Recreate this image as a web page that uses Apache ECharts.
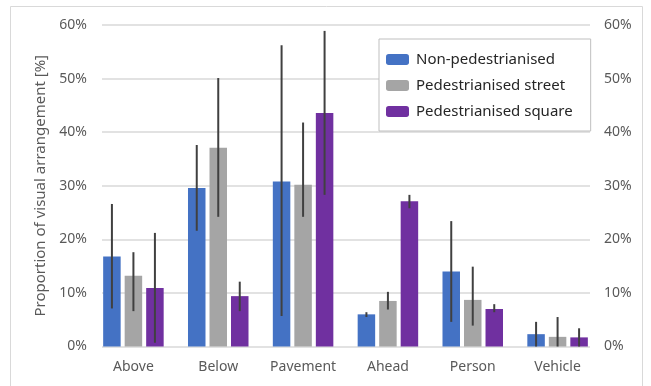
<!DOCTYPE html>
<html>
<head>
<meta charset="utf-8">
<script src="https://cdn.jsdelivr.net/npm/echarts@6/dist/echarts.min.js"></script>
<style>html,body{margin:0;padding:0;background:#fff}#c{width:651px;height:386px}</style>
</head>
<body>
<div id="c"></div>
<script>
const categories = ['Above', 'Below', 'Pavement', 'Ahead', 'Person', 'Vehicle'];
const seriesNames = ['Non-pedestrianised', 'Pedestrianised street', 'Pedestrianised square'];
const nonPed = [16.8, 29.6, 30.8, 6.0, 14.0, 2.3];
const pedStreet = [13.2, 37.1, 30.2, 8.5, 8.7, 1.8];
const pedSquare = [10.9, 9.4, 43.6, 27.1, 7.0, 1.7];
const nonPedLow = [7.1, 21.6, 5.7, 5.5, 4.6, 0];
const nonPedHigh = [26.6, 37.6, 56.2, 6.4, 23.4, 4.6];
const pedStreetLow = [6.6, 24.2, 24.2, 6.9, 3.9, 0];
const pedStreetHigh = [17.6, 50.1, 41.8, 10.2, 14.9, 5.5];
const pedSquareLow = [0.7, 6.6, 28.3, 25.8, 6.4, 0];
const pedSquareHigh = [21.2, 12.1, 58.9, 28.3, 7.9, 3.4];
const yTicks = [0, 10, 20, 30, 40, 50, 60];

const colors = ['#4472C4', '#A5A5A5', '#7030A0'];
const values = [nonPed, pedStreet, pedSquare];
const lows = [nonPedLow, pedStreetLow, pedSquareLow];
const highs = [nonPedHigh, pedStreetHigh, pedSquareHigh];
const BW = 17.5, GAP = 4;
const offsets = [-(BW + GAP), 0, BW + GAP];
const FONT = 'Noto Sans';

const chart = echarts.init(document.getElementById('c'), null, {renderer: 'canvas'});

const barSeries = values.map((v, i) => ({
  name: seriesNames[i], type: 'bar', xAxisIndex: 0, yAxisIndex: 0,
  data: v, barWidth: BW, barGap: (GAP / BW * 100).toFixed(1) + '%',
  itemStyle: {color: colors[i]}, silent: true
}));
const errSeries = values.map((v, i) => ({
  type: 'custom', xAxisIndex: 0, yAxisIndex: 0, silent: true, z: 5,
  data: categories.map((c, k) => [k, lows[i][k], highs[i][k]]),
  renderItem: function (params, api) {
    const lo = api.coord([api.value(0), api.value(1)]);
    const hi = api.coord([api.value(0), api.value(2)]);
    const x = lo[0] + offsets[i];
    return {type: 'line', shape: {x1: x, y1: lo[1], x2: x, y2: hi[1]},
      style: {stroke: '#404040', lineWidth: 2}};
  }
}));

chart.setOption({
  animation: false,
  textStyle: {fontFamily: FONT},
  graphic: [{type: 'rect', shape: {x: 10.5, y: 6.5, width: 632, height: 390},
    style: {fill: 'none', stroke: '#D9D9D9', lineWidth: 1}, silent: true}],
  grid: [
    {left: 91, right: 51, top: 25, bottom: 39.5},
    {left: 102, right: 61, top: 25, bottom: 39.5}
  ],
  legend: {
    orient: 'vertical', left: 379, top: 39,
    data: seriesNames,
    itemWidth: 23, itemHeight: 11, itemGap: 11,
    padding: [13, 18, 12, 7],
    borderColor: '#BFBFBF', borderWidth: 1, backgroundColor: '#fff',
    textStyle: {fontFamily: FONT, fontSize: 15, color: '#262626', lineHeight: 11, padding: [0, 0, 0, 2]},
    selectedMode: false
  },
  xAxis: [
    {type: 'category', gridIndex: 0, data: categories,
      axisLine: {show: false}, axisTick: {show: false},
      axisLabel: {fontFamily: FONT, fontSize: 14, color: '#595959', margin: 14, interval: 0}},
    {type: 'value', gridIndex: 1, show: false, min: 0, max: 1}
  ],
  yAxis: [
    {type: 'value', gridIndex: 0, min: 0, max: 60, interval: 10, show: false},
    {type: 'value', gridIndex: 1, position: 'left', min: 0, max: 60, interval: 10,
      name: 'Proportion of visual arrangement [%]', nameLocation: 'middle', nameGap: 39,
      nameTextStyle: {fontFamily: FONT, fontSize: 15, color: '#595959'},
      axisLine: {show: false}, axisTick: {show: false},
      axisLabel: {fontFamily: FONT, fontSize: 14, color: '#595959', margin: 15,
        formatter: v => yTicks.includes(v) ? v + '%' : ''},
      splitLine: {show: true, lineStyle: {color: '#D9D9D9', width: 1.5}}},
    {type: 'value', gridIndex: 1, position: 'right', min: 0, max: 60, interval: 10,
      axisLine: {show: false}, axisTick: {show: false}, splitLine: {show: false},
      axisLabel: {fontFamily: FONT, fontSize: 14, color: '#595959', margin: 14,
        formatter: v => yTicks.includes(v) ? v + '%' : ''}}
  ],
  series: barSeries.concat(errSeries)
});
</script>
</body>
</html>
